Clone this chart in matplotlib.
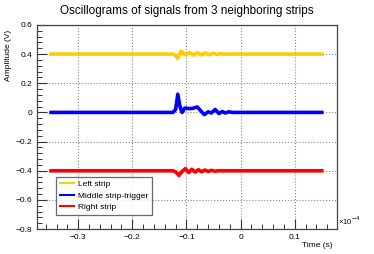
import matplotlib.pyplot as plt
from matplotlib.ticker import MultipleLocator
import numpy as np

plt.rcParams['font.family'] = ['Liberation Sans', 'DejaVu Sans']

# time in units of 1e-4 s, amplitude in V
t_left = [-0.35, -0.125, -0.12, -0.116, -0.110, -0.102, -0.094, -0.087, -0.080,
          -0.073, -0.065, -0.058, -0.051, -0.044, -0.037, -0.030, -0.02, 0.15]
v_left = [0.40, 0.40, 0.39, 0.37, 0.42, 0.395, 0.41, 0.393, 0.409,
          0.394, 0.407, 0.395, 0.405, 0.397, 0.403, 0.399, 0.40, 0.40]

t_mid = [-0.35, -0.125, -0.12, -0.116, -0.112, -0.108, -0.103, -0.095, -0.088,
         -0.080, -0.074, -0.067, -0.060, -0.054, -0.047, -0.040, -0.034, -0.028,
         -0.022, -0.015, 0.15]
v_mid = [0.0, 0.0, 0.02, 0.125, 0.04, 0.0, 0.03, 0.026, 0.028,
         0.038, 0.012, -0.015, 0.004, -0.004, 0.02, -0.008, 0.006, -0.004,
         0.004, 0.0, 0.0]

t_right = [-0.35, -0.125, -0.119, -0.114, -0.108, -0.102, -0.096, -0.090, -0.084,
           -0.078, -0.072, -0.066, -0.060, -0.054, -0.048, -0.040, 0.15]
v_right = [-0.40, -0.40, -0.41, -0.432, -0.405, -0.385, -0.412, -0.39, -0.409,
           -0.393, -0.407, -0.395, -0.405, -0.397, -0.403, -0.40, -0.40]

labels = ['Left strip', 'Middle strip-trigger', 'Right strip']
colors = ['#ffcc00', '#0000ff', '#ff0000']

fig = plt.figure(figsize=(3.74, 2.54), dpi=100)
ax = fig.add_axes([0.099, 0.098, 0.802, 0.804])

for t, v, lab, c in zip([t_left, t_mid, t_right], [v_left, v_mid, v_right], labels, colors):
    ax.plot(t, v, color=c, lw=2.6, label=lab, solid_joinstyle='round')

ax.set_xlim(-0.376, 0.178)
ax.set_ylim(-0.8, 0.6)
ax.xaxis.set_major_locator(MultipleLocator(0.1))
ax.xaxis.set_minor_locator(MultipleLocator(0.02))
ax.yaxis.set_major_locator(MultipleLocator(0.2))
ax.yaxis.set_minor_locator(MultipleLocator(0.04))
ax.set_xticks([-0.3, -0.2, -0.1, 0, 0.1])
ax.set_xticklabels(['\u22120.3', '\u22120.2', '\u22120.1', '0', '0.1'])
ax.set_yticks([-0.8, -0.6, -0.4, -0.2, 0, 0.2, 0.4, 0.6])
ax.set_yticklabels(['\u22120.8', '\u22120.6', '\u22120.4', '\u22120.2', '0', '0.2', '0.4', '0.6'])
ax.tick_params(which='both', direction='in', labelsize=6, color='#333333')
ax.tick_params(which='major', length=7, width=0.8)
ax.tick_params(which='minor', length=3.5, width=0.7)
ax.grid(True, which='major', ls=':', color='#888888', lw=0.8)
for s in ax.spines.values():
    s.set_color('#444444')
    s.set_linewidth(0.9)

ax.set_title('Oscillograms of signals from 3 neighboring strips', fontsize=8.5, pad=8)
ax.set_ylabel('Amplitude (V)', fontsize=6, loc='top')
ax.yaxis.set_label_coords(-0.083, 0.975)
ax.set_xlabel('Time (s)', fontsize=6, loc='right', labelpad=1)
ax.xaxis.set_label_coords(0.985, -0.065)
ax.text(1.005, 0.01, '\u00d710$^{-4}$', transform=ax.transAxes, fontsize=5.5,
        va='bottom', ha='left')

leg = ax.legend(loc='lower left', bbox_to_anchor=(0.063, 0.069), fontsize=6,
                frameon=True, fancybox=False, edgecolor='#444444', handlelength=1.7,
                handletextpad=0.5, borderpad=0.45, labelspacing=0.45, borderaxespad=0)
leg.get_frame().set_linewidth(0.9)
for ln in leg.get_lines():
    ln.set_linewidth(1.5)

fig.savefig('out.png', dpi=100)
